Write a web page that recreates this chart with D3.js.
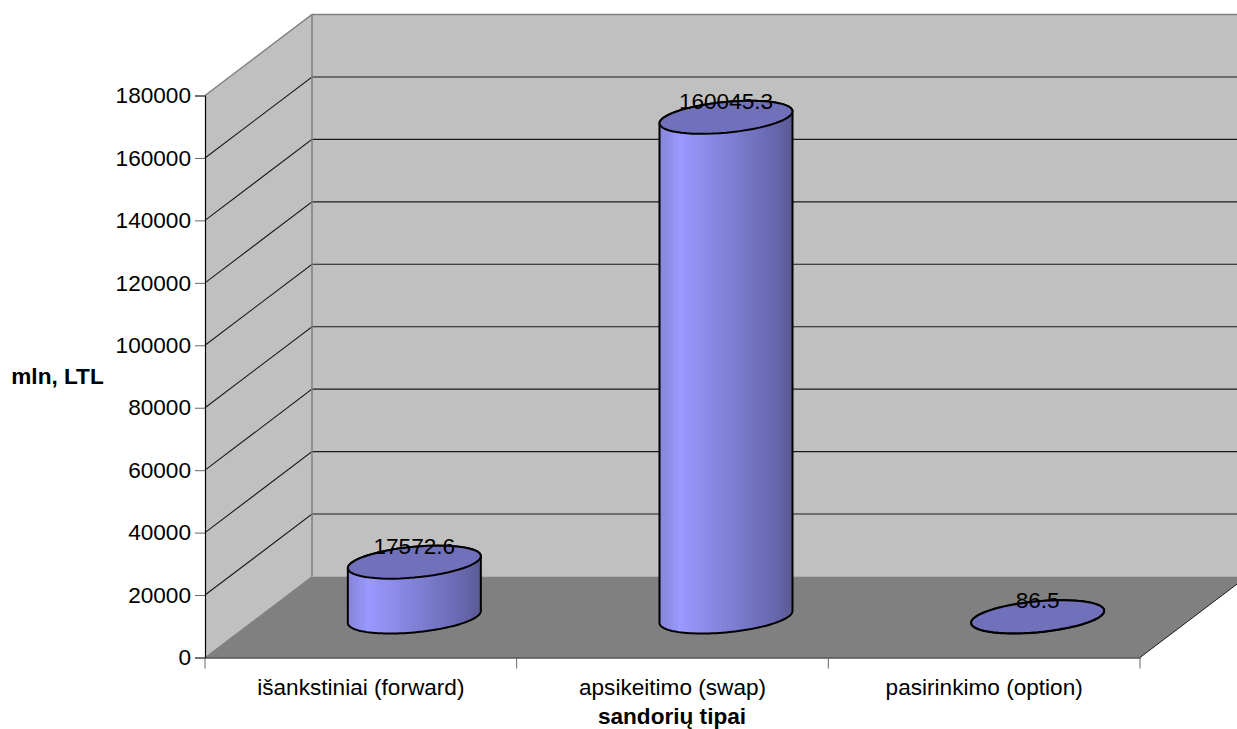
<!DOCTYPE html>
<html>
<head>
<meta charset="utf-8">
<script src="https://d3js.org/d3.v7.min.js"></script>
<style>
html, body { margin: 0; padding: 0; background: #fff; overflow: hidden; }
text { font-family: "Liberation Sans", Arial, sans-serif; fill: #000; }
</style>
</head>
<body>
<div id="chart"></div>
<script>
// values
var categories = ["išankstiniai (forward)", "apsikeitimo (swap)", "pasirinkimo (option)"];
var values = [17572.6, 160045.3, 86.5];
var yTicks = [0, 20000, 40000, 60000, 80000, 100000, 120000, 140000, 160000, 180000];
var xTitle = "sandorių tipai";
var yTitle = "mln, LTL";

var svgWidth = 1237;
var svgHeight = 729;

// front plane of the 3d box and how far the back wall is shifted from it
var plot = { left: 205, right: 1140, top: 95.5, bottom: 657.5 };
var depth = { x: 107, y: -81 };
var fontSize = 22.6;

var svg = d3.select("#chart").append("svg")
    .attr("width", svgWidth)
    .attr("height", svgHeight)
    .style("display", "block");

var xScale = d3.scaleBand().domain(categories).range([plot.left, plot.right]);
var yScale = d3.scaleLinear().domain([0, 180000]).range([plot.bottom, plot.top]);

var poly = d3.line();

// back wall
svg.append("rect")
    .attr("x", plot.left + depth.x)
    .attr("y", plot.top + depth.y)
    .attr("width", plot.right - plot.left)
    .attr("height", plot.bottom - plot.top)
    .attr("fill", "#c0c0c0");

// left wall
svg.append("path")
    .attr("d", poly([
        [plot.left, plot.bottom],
        [plot.left, plot.top],
        [plot.left + depth.x, plot.top + depth.y],
        [plot.left + depth.x, plot.bottom + depth.y]
    ]) + "Z")
    .attr("fill", "#c0c0c0");

// floor
svg.append("path")
    .attr("d", poly([
        [plot.left, plot.bottom],
        [plot.right, plot.bottom],
        [plot.right + depth.x, plot.bottom + depth.y],
        [plot.left + depth.x, plot.bottom + depth.y]
    ]) + "Z")
    .attr("fill", "#808080");

// gridlines on both walls
yTicks.slice(1).forEach(function(t, i) {
    var y = yScale(t);
    var last = i === yTicks.length - 2;
    var color = last ? "#808080" : "#1a1a1a";
    var width = last ? 1.5 : 1.1;
    svg.append("path")
        .attr("d", poly([
            [plot.left, y],
            [plot.left + depth.x, y + depth.y],
            [plot.right + depth.x, y + depth.y]
        ]))
        .attr("fill", "none")
        .attr("stroke", color)
        .attr("stroke-width", width);
});

// wall edges
svg.append("line")
    .attr("x1", plot.left + depth.x).attr("x2", plot.left + depth.x)
    .attr("y1", plot.top + depth.y).attr("y2", plot.bottom + depth.y)
    .attr("stroke", "#808080").attr("stroke-width", 1.5);
svg.append("line")
    .attr("x1", plot.left).attr("x2", plot.left + depth.x)
    .attr("y1", plot.bottom).attr("y2", plot.bottom + depth.y)
    .attr("stroke", "#808080").attr("stroke-width", 1);
svg.append("line")
    .attr("x1", plot.right).attr("x2", plot.right + depth.x)
    .attr("y1", plot.bottom).attr("y2", plot.bottom + depth.y)
    .attr("stroke", "#1a1a1a").attr("stroke-width", 1);

// cylinder side shading, stepped like the original
var defs = svg.append("defs");
var grad = defs.append("linearGradient").attr("id", "side");
var shadeStops = [[0, "#8787dd"], [0.14, "#9999ff"], [0.55, "#7d7dd2"], [0.85, "#6767ad"], [1, "#58588f"]];
var steps = 36;
var shade = d3.scaleLinear().domain(shadeStops.map(function(d) { return d[0]; }))
    .range(shadeStops.map(function(d) { return d[1]; }));
d3.range(steps).forEach(function(i) {
    grad.append("stop").attr("offset", i / steps).attr("stop-color", shade(i / steps));
    grad.append("stop").attr("offset", (i + 1) / steps).attr("stop-color", shade(i / steps));
});

// cylinder footprint
var rx = 66.5;
var skew = -6;
var ry = 15.4;

function ellipsePoint(cx, cy, t) {
    return [cx + rx * Math.cos(t), cy + skew * Math.cos(t) + ry * Math.sin(t)];
}

function arc(cx, cy, from, to) {
    return d3.range(61).map(function(i) {
        return ellipsePoint(cx, cy, from + (to - from) * i / 60);
    });
}

var bars = svg.selectAll("g.bar").data(categories).enter().append("g").attr("class", "bar");

bars.each(function(c, i) {
    var g = d3.select(this);
    var cx = xScale(c) + xScale.bandwidth() / 2 + depth.x / 2;
    var base = yScale(0) + depth.y / 2;
    var top = yScale(values[i]) + depth.y / 2;

    g.append("path")
        .attr("d", poly(arc(cx, base, Math.PI, 0).concat(arc(cx, top, 0, -Math.PI))) + "Z")
        .attr("fill", "url(#side)")
        .attr("stroke", "#000")
        .attr("stroke-width", 2);

    g.append("path")
        .attr("d", poly(arc(cx, top, 0, 2 * Math.PI)) + "Z")
        .attr("fill", "#7171bb")
        .attr("stroke", "#000")
        .attr("stroke-width", 2);

    // value label sits on the top edge of the ellipse
    g.append("text")
        .attr("x", cx)
        .attr("y", top - Math.hypot(skew, ry))
        .attr("dy", "0.36em")
        .attr("text-anchor", "middle")
        .style("font-size", fontSize + "px")
        .text(values[i]);
});

// y axis
var yAxis = svg.append("g")
    .attr("transform", "translate(" + plot.left + ",0)")
    .call(d3.axisLeft(yScale).tickValues(yTicks).tickSize(10).tickPadding(4).tickFormat(d3.format("d")));
yAxis.select(".domain").attr("stroke", "#000").attr("stroke-width", 1.2);
yAxis.selectAll(".tick line").attr("stroke", "#666");
yAxis.selectAll("text").style("font-size", fontSize + "px").style("font-family", "Liberation Sans");

// x axis, category ticks sit on the band edges
var xAxis = svg.append("g")
    .attr("transform", "translate(0," + plot.bottom + ")")
    .call(d3.axisBottom(xScale).tickSize(0).tickPadding(21));
xAxis.select(".domain").attr("stroke", "#000").attr("stroke-width", 1.2);
xAxis.selectAll("text").style("font-size", fontSize + "px").style("font-family", "Liberation Sans");
categories.map(function(c) { return xScale(c); }).concat([plot.right]).forEach(function(x) {
    xAxis.append("line")
        .attr("x1", x).attr("x2", x)
        .attr("y1", 0).attr("y2", 11)
        .attr("stroke", "#666");
});

// axis titles
svg.append("text")
    .attr("x", 57.5).attr("y", 376).attr("dy", "0.36em")
    .attr("text-anchor", "middle")
    .style("font-size", fontSize + "px").style("font-weight", "bold")
    .text(yTitle);
svg.append("text")
    .attr("x", 672).attr("y", 716).attr("dy", "0.36em")
    .attr("text-anchor", "middle")
    .style("font-size", fontSize + "px").style("font-weight", "bold")
    .text(xTitle);
</script>
</body>
</html>
